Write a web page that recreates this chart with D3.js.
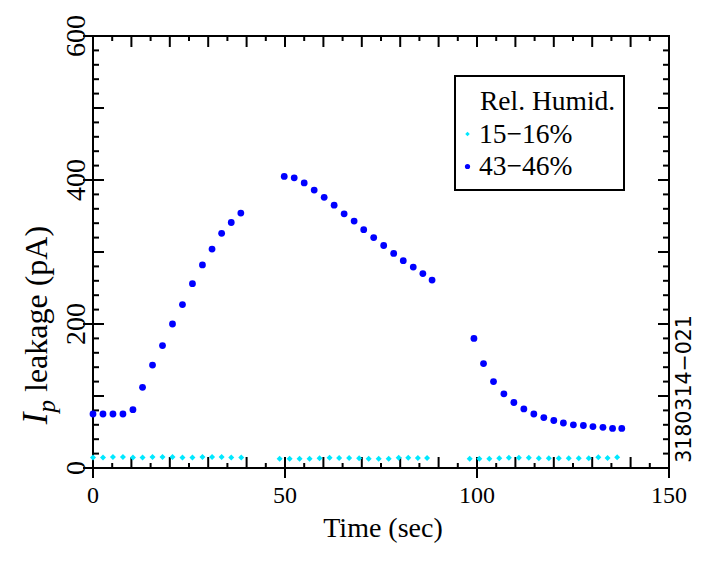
<!DOCTYPE html>
<html>
<head>
<meta charset="utf-8">
<script src="https://cdn.jsdelivr.net/npm/d3@7"></script>
<style>
  body { margin: 0; background: #fff; }
  text { font-family: "Liberation Serif", "Times New Roman", serif; fill: #000; }
</style>
</head>
<body>
<div id="chart-container"></div>
<script>
// Ip leakage vs time for two humidity ranges
const highTime = [0, 2.6, 5.2, 7.8, 10.4, 12.9, 15.5, 18.1, 20.7, 23.3, 25.9, 28.5, 31.0, 33.5, 36.0, 38.5,
    49.8, 52.4, 55.0, 57.6, 60.2, 62.8, 65.4, 68.0, 70.5, 73.1, 75.7, 78.3, 80.8, 83.4, 85.9, 88.3,
    99.2, 101.7, 104.3, 107.0, 109.6, 112.2, 114.8, 117.4, 120.0, 122.5, 125.1, 127.7, 130.2, 132.8, 135.3, 137.7];
const highLeak = [75, 75, 75, 75, 81, 112, 143, 170, 200, 227, 256, 282, 304, 326, 341, 354,
    405, 403, 396, 386, 376, 365, 353, 343, 331, 320, 309, 298, 288, 279, 270, 261,
    180, 145, 120, 103, 91, 82, 75, 70, 66, 62.5, 60, 59, 57.5, 56.5, 55, 55];

const lowTime = [0, 2.6, 5.2, 7.8, 10.4, 12.9, 15.5, 18.1, 20.7, 23.3, 25.9, 28.5, 31.0, 33.5, 36.0, 38.6,
    48.6, 51.2, 53.8, 56.4, 59.0, 61.6, 64.1, 66.7, 69.3, 71.8, 74.4, 77.0, 79.6, 82.1, 84.6, 87.0,
    98.1, 100.6, 103.2, 105.8, 108.3, 110.9, 113.5, 116.1, 118.7, 121.3, 123.9, 126.5, 129.1, 131.6, 134.0, 136.5];
const lowLeak = [14.5, 14.5, 15.3, 15.3, 14.5, 14.5, 15.3, 15.3, 15.3, 14.5, 14.5, 15.3, 15.3, 15.3, 14.5, 14.5,
    13, 13, 13, 13, 13.5, 14.4, 14, 14, 13.5, 13, 13, 13, 14.4, 14.4, 14, 14,
    13, 13, 13, 13.5, 14.4, 14.4, 14.4, 13.5, 13.5, 13.5, 13.5, 13.5, 13.5, 14.9, 14, 14.9];

const xLabels = [0, 50, 100, 150];
const yLabels = [0, 200, 400, 600];
const legendTitle = "Rel. Humid.";
const legendNames = ["15\u221216%", "43\u221246%"];
const seriesColors = ["#00e8ff", "#0000ff"];

const margin = { top: 36, right: 37, bottom: 94, left: 93 },
    width = 706 - margin.left - margin.right,
    height = 562 - margin.top - margin.bottom;

const root = d3.select("#chart-container").append("svg")
    .attr("width", 706)
    .attr("height", 562);

const svg = root.append("g")
    .attr("transform", `translate(${margin.left},${margin.top})`);

const x = d3.scaleLinear().domain([0, 150]).range([0, width]);
const y = d3.scaleLinear().domain([0, 600]).range([height, 0]);

// ticks along x (bottom + top)
const xMinor = d3.range(0, 151, 5);
xMinor.forEach(v => {
    const major = v % 10 === 0;
    const len = major ? 11 : 5;
    const labeled = xLabels.includes(v);
    svg.append("line").attr("x1", x(v)).attr("x2", x(v))
        .attr("y1", height + (labeled ? 10 : 0)).attr("y2", height - len)
        .attr("stroke", "#000").attr("stroke-width", 2);
    svg.append("line").attr("x1", x(v)).attr("x2", x(v))
        .attr("y1", 0).attr("y2", len)
        .attr("stroke", "#000").attr("stroke-width", 2);
});

// ticks along y (left + right)
const yMinor = d3.range(0, 601, 20);
yMinor.forEach(v => {
    const major = v % 100 === 0;
    const len = major ? 11 : 6;
    const labeled = yLabels.includes(v);
    svg.append("line").attr("y1", y(v)).attr("y2", y(v))
        .attr("x1", labeled ? -10 : 0).attr("x2", len)
        .attr("stroke", "#000").attr("stroke-width", 2);
    svg.append("line").attr("y1", y(v)).attr("y2", y(v))
        .attr("x1", width - len).attr("x2", width)
        .attr("stroke", "#000").attr("stroke-width", 2);
});

// frame
svg.append("rect")
    .attr("width", width).attr("height", height)
    .attr("fill", "none").attr("stroke", "#000").attr("stroke-width", 2);

// tick labels
svg.selectAll(".xl").data(xLabels).enter().append("text")
    .attr("x", d => x(d)).attr("y", height + 35)
    .attr("text-anchor", "middle")
    .style("font-size", "24px")
    .text(d => d);

svg.selectAll(".yl").data(yLabels).enter().append("text")
    .attr("transform", d => `translate(-8,${y(d)}) rotate(-90)`)
    .attr("text-anchor", "middle")
    .style("font-size", "28px")
    .text(d => d);

// axis titles
svg.append("text")
    .attr("x", width / 2 + 2).attr("y", height + 69)
    .attr("text-anchor", "middle")
    .style("font-size", "28px")
    .text("Time (sec)");

const yt = svg.append("text")
    .attr("transform", `translate(-46,${height / 2 + 73}) rotate(-90)`)
    .attr("text-anchor", "middle")
    .style("font-size", "32px");
yt.append("tspan").style("font-style", "italic").style("font-size", "35px").text("I");
yt.append("tspan").style("font-style", "italic").style("font-size", "25px").attr("dy", 8).text("p");
yt.append("tspan").attr("dy", -8).text(" leakage (pA)");

// side code
root.append("text")
    .attr("transform", "translate(691,389) rotate(-90)")
    .attr("text-anchor", "middle")
    .style("font-family", "DejaVu Sans, sans-serif")
    .style("font-size", "20.5px")
    .text("3180314\u2212021");

// data points
const lowPts = lowTime.map((t, i) => ({ t, v: lowLeak[i] }));
const highPts = highTime.map((t, i) => ({ t, v: highLeak[i] }));

svg.selectAll(".low").data(lowPts).enter().append("path")
    .attr("class", "low")
    .attr("d", d3.symbol(d3.symbolSquare, 18))
    .attr("transform", d => `translate(${x(d.t)},${y(d.v)}) rotate(45)`)
    .attr("fill", seriesColors[0]);

svg.selectAll(".high").data(highPts).enter().append("circle")
    .attr("class", "high")
    .attr("cx", d => x(d.t)).attr("cy", d => y(d.v))
    .attr("r", 3.4)
    .attr("fill", seriesColors[1]);

// legend
const lg = root.append("g");
lg.append("rect")
    .attr("x", 455).attr("y", 76).attr("width", 169).attr("height", 114)
    .attr("fill", "#fff").attr("stroke", "#000").attr("stroke-width", 2);
lg.append("text").attr("x", 480).attr("y", 110).style("font-size", "27.5px").text(legendTitle);
legendNames.forEach((n, i) => {
    const cy = 134 + i * 32.5;
    if (i === 0) {
        lg.append("path").attr("d", d3.symbol(d3.symbolSquare, 10))
            .attr("transform", `translate(467.5,${cy}) rotate(45)`).attr("fill", seriesColors[0]);
    } else {
        lg.append("circle").attr("cx", 467.5).attr("cy", cy).attr("r", 2.6).attr("fill", seriesColors[1]);
    }
    lg.append("text").attr("x", 479).attr("y", cy + 8.5).style("font-size", "27.5px").text(n);
});
</script>
</body>
</html>
